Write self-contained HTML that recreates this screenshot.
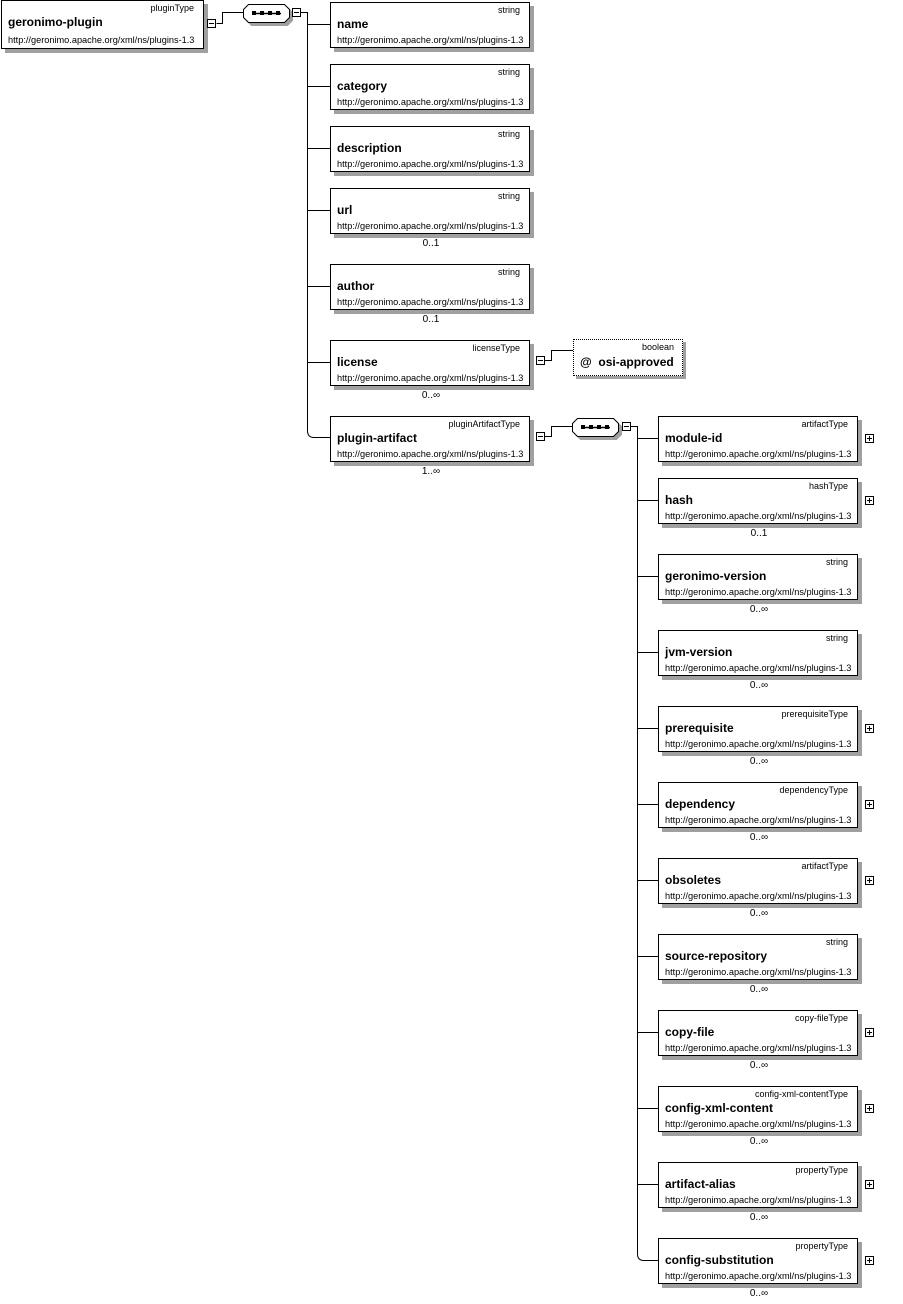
<!DOCTYPE html>
<html><head><meta charset="utf-8"><style>
body{margin:0;width:903px;height:1304px;background:#fff;position:relative;font-family:"Liberation Sans",sans-serif;overflow:hidden}
.b{position:absolute;width:200px;height:46px;border:1px solid #000;background:#fff;box-shadow:4px 4px 0 #a0a0a0;box-sizing:border-box}
.b .t{position:absolute;right:9px;top:2px;font-size:9px}
.b b{position:absolute;left:6px;top:14px;font-size:12px}
.b .u{position:absolute;left:6px;top:32px;font-size:9.2px;white-space:nowrap}
.o{position:absolute;font-size:10px;width:60px;text-align:center}
.m{position:absolute;width:9px;height:9px;border:1px solid #000;background:#fff;box-sizing:border-box}
.m:before{content:"";position:absolute;left:1px;top:3px;width:5px;height:1px;background:#000}
.p:after{content:"";position:absolute;left:3px;top:1px;width:1px;height:5px;background:#000}
svg{position:absolute;left:0;top:0}
</style></head><body>
<svg width="903" height="1304">
<g stroke="#000" fill="none" stroke-width="1">
<path d="M216.5 23.5H222.5V12.5H243"/>
<path d="M301 12.5H307.5V430.5Q307.5 437.5 314 437.5H330"/>
<path d="M307 24.5H330M307 86.5H330M307 148.5H330M307 210.5H330M307 286.5H330M307 362.5H330"/>
<path d="M545 360.5H551.5V350.5H573"/>
<path d="M545 436.5H551.5V426.5H572"/>
<path d="M631 426.5H637.5V1254Q637.5 1260.5 644 1260.5H658"/>
<path d="M637 438.5H658M637 500.5H658M637 576.5H658M637 652.5H658M637 728.5H658M637 804.5H658M637 880.5H658M637 956.5H658M637 1032.5H658M637 1108.5H658M637 1184.5H658"/>
</g>
<g stroke="#000" fill="#fff">
<path d="M243.5 9.5L248.5 4.5H284.5L289.5 9.5V17.5L284.5 22.5H248.5L243.5 17.5Z" style="filter:drop-shadow(3px 3px 0 #a0a0a0)"/>
<path d="M572.5 423.5L577.5 418.5H613.5L618.5 423.5V431.5L613.5 436.5H577.5L572.5 431.5Z" style="filter:drop-shadow(3px 3px 0 #a0a0a0)"/>
</g>
<g stroke="#000" stroke-width="1.5">
<path d="M252 13.5H281"/>
<path d="M581 427.5H610"/>
</g>
<g fill="#000"><rect x="252" y="11" width="4" height="4"/><rect x="260" y="11" width="4" height="4"/><rect x="268" y="11" width="4" height="4"/><rect x="276" y="11" width="4" height="4"/>
<rect x="581" y="425" width="4" height="4"/><rect x="589" y="425" width="4" height="4"/><rect x="597" y="425" width="4" height="4"/><rect x="605" y="425" width="4" height="4"/></g>
</svg>
<div class="b" style="left:1px;top:0;width:203px;height:49px"><span class="t">pluginType</span><b>geronimo-plugin</b><span class="u" style="top:34px">http://geronimo.apache.org/xml/ns/plugins-1.3</span></div>
<div class="m" style="left:207px;top:19px"></div>
<div class="m" style="left:292px;top:8px"></div>

<div class="b" style="left:330px;top:2px"><span class="t">string</span><b>name</b><span class="u">http://geronimo.apache.org/xml/ns/plugins-1.3</span></div>
<div class="b" style="left:330px;top:64px"><span class="t">string</span><b>category</b><span class="u">http://geronimo.apache.org/xml/ns/plugins-1.3</span></div>
<div class="b" style="left:330px;top:126px"><span class="t">string</span><b>description</b><span class="u">http://geronimo.apache.org/xml/ns/plugins-1.3</span></div>
<div class="b" style="left:330px;top:188px"><span class="t">string</span><b>url</b><span class="u">http://geronimo.apache.org/xml/ns/plugins-1.3</span></div>
<div class="o" style="left:401px;top:238px">0..1</div>
<div class="b" style="left:330px;top:264px"><span class="t">string</span><b>author</b><span class="u">http://geronimo.apache.org/xml/ns/plugins-1.3</span></div>
<div class="o" style="left:401px;top:314px">0..1</div>
<div class="b" style="left:330px;top:340px"><span class="t">licenseType</span><b>license</b><span class="u">http://geronimo.apache.org/xml/ns/plugins-1.3</span></div>
<div class="o" style="left:401px;top:390px">0..∞</div>
<div class="m" style="left:536px;top:356px"></div>
<div style="position:absolute;left:573px;top:339px;width:110px;height:37px;border:1px dotted #000;box-sizing:border-box;background:#fff;box-shadow:3px 3px 0 #a0a0a0"><span style="position:absolute;right:8px;top:2px;font-size:9px">boolean</span><b style="position:absolute;left:6px;top:15px;font-size:12px">@&nbsp;&nbsp;osi-approved</b></div>
<div class="b" style="left:330px;top:416px"><span class="t">pluginArtifactType</span><b>plugin-artifact</b><span class="u">http://geronimo.apache.org/xml/ns/plugins-1.3</span></div>
<div class="o" style="left:401px;top:466px">1..∞</div>
<div class="m" style="left:536px;top:432px"></div>
<div class="m" style="left:622px;top:422px"></div>

<div class="b" style="left:658px;top:416px"><span class="t">artifactType</span><b>module-id</b><span class="u">http://geronimo.apache.org/xml/ns/plugins-1.3</span></div><div class="m p" style="left:865px;top:434px"></div>
<div class="b" style="left:658px;top:478px"><span class="t">hashType</span><b>hash</b><span class="u">http://geronimo.apache.org/xml/ns/plugins-1.3</span></div><div class="m p" style="left:865px;top:496px"></div><div class="o" style="left:729px;top:528px">0..1</div>
<div class="b" style="left:658px;top:554px"><span class="t">string</span><b>geronimo-version</b><span class="u">http://geronimo.apache.org/xml/ns/plugins-1.3</span></div><div class="o" style="left:729px;top:604px">0..∞</div>
<div class="b" style="left:658px;top:630px"><span class="t">string</span><b>jvm-version</b><span class="u">http://geronimo.apache.org/xml/ns/plugins-1.3</span></div><div class="o" style="left:729px;top:680px">0..∞</div>
<div class="b" style="left:658px;top:706px"><span class="t">prerequisiteType</span><b>prerequisite</b><span class="u">http://geronimo.apache.org/xml/ns/plugins-1.3</span></div><div class="m p" style="left:865px;top:724px"></div><div class="o" style="left:729px;top:756px">0..∞</div>
<div class="b" style="left:658px;top:782px"><span class="t">dependencyType</span><b>dependency</b><span class="u">http://geronimo.apache.org/xml/ns/plugins-1.3</span></div><div class="m p" style="left:865px;top:800px"></div><div class="o" style="left:729px;top:832px">0..∞</div>
<div class="b" style="left:658px;top:858px"><span class="t">artifactType</span><b>obsoletes</b><span class="u">http://geronimo.apache.org/xml/ns/plugins-1.3</span></div><div class="m p" style="left:865px;top:876px"></div><div class="o" style="left:729px;top:908px">0..∞</div>
<div class="b" style="left:658px;top:934px"><span class="t">string</span><b>source-repository</b><span class="u">http://geronimo.apache.org/xml/ns/plugins-1.3</span></div><div class="o" style="left:729px;top:984px">0..∞</div>
<div class="b" style="left:658px;top:1010px"><span class="t">copy-fileType</span><b>copy-file</b><span class="u">http://geronimo.apache.org/xml/ns/plugins-1.3</span></div><div class="m p" style="left:865px;top:1028px"></div><div class="o" style="left:729px;top:1060px">0..∞</div>
<div class="b" style="left:658px;top:1086px"><span class="t">config-xml-contentType</span><b>config-xml-content</b><span class="u">http://geronimo.apache.org/xml/ns/plugins-1.3</span></div><div class="m p" style="left:865px;top:1104px"></div><div class="o" style="left:729px;top:1136px">0..∞</div>
<div class="b" style="left:658px;top:1162px"><span class="t">propertyType</span><b>artifact-alias</b><span class="u">http://geronimo.apache.org/xml/ns/plugins-1.3</span></div><div class="m p" style="left:865px;top:1180px"></div><div class="o" style="left:729px;top:1212px">0..∞</div>
<div class="b" style="left:658px;top:1238px"><span class="t">propertyType</span><b>config-substitution</b><span class="u">http://geronimo.apache.org/xml/ns/plugins-1.3</span></div><div class="m p" style="left:865px;top:1256px"></div><div class="o" style="left:729px;top:1288px">0..∞</div>
</body></html>
